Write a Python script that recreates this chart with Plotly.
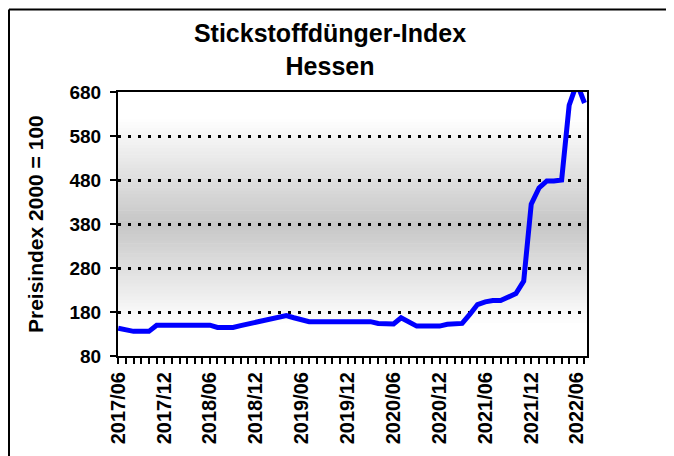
import pandas as pd
import plotly.graph_objects as go

# ---- data ----
months = pd.date_range("2017-06-01", periods=62, freq="MS")
index_values = [
    143, 139, 136, 136, 136, 150, 150, 150, 150, 150, 150, 150,
    150, 145, 145, 145, 149, 153, 157, 161, 165, 167, 172, 167,
    162, 158, 158, 158, 158, 158, 158, 158, 158, 158, 154, 153,
    153, 167, 157, 148, 148, 148, 148, 152, 154, 154, 175, 197,
    203, 206, 206, 215, 222, 250, 425, 462, 478, 478, 480, 650,
    700, 655,
]
y_ticks = [80, 180, 280, 380, 480, 580, 680]
title_lines = ["Stickstoffdünger-Index", "Hessen"]
y_title = "Preisindex 2000 = 100"

FONT = "Liberation Sans, Arial, sans-serif"

# page has an 8px body margin -> figure is 666x448 placed at (8,8)
W, H = 666, 448
ML, MR, MT, MB = 110, 87, 84, 98
PW, PH = W - ML - MR, H - MT - MB

fig = go.Figure()
fig.add_trace(go.Scatter(
    x=months, y=index_values, mode="lines",
    line=dict(color="#0000ff", width=5),
    hoverinfo="x+y", showlegend=False,
))

# background gradient (white -> grey -> white) as thin bands
shapes = []
N = 80
for i in range(N):
    f0, f1 = i / N, (i + 1) / N
    f = (f0 + f1) / 2
    if f < 0.12 or f > 0.9:
        g = 255
    elif f <= 0.5:
        g = 255 - 57 * (f - 0.12) / 0.38
    else:
        g = 198 + 57 * (f - 0.5) / 0.4
    g = int(round(g))
    shapes.append(dict(type="rect", xref="x domain", yref="y domain",
                       x0=0, x1=1, y0=f0, y1=f1 + 0.002,
                       fillcolor=f"rgb({g},{g},{g})", line=dict(width=0),
                       layer="below"))

# outer frame (left and top edges)
fx = (1 - ML) / PW
fy = (H - MB - 1) / PH
shapes.append(dict(type="line", xref="paper", yref="paper",
                   x0=fx, x1=fx, y0=-0.5, y1=fy,
                   line=dict(color="black", width=2)))
shapes.append(dict(type="line", xref="paper", yref="paper",
                   x0=fx, x1=1.3, y0=fy, y1=fy,
                   line=dict(color="black", width=2)))

fig.update_layout(
    width=W, height=H,
    margin=dict(l=ML, r=MR, t=MT, b=MB),
    paper_bgcolor="white", plot_bgcolor="white",
    font=dict(family=FONT, color="black"),
    title=dict(text="<br>".join(title_lines), x=322 / W, xanchor="center",
               xref="container", yref="container", y=1 - 34 / H, yanchor="top",
               font=dict(size=25, family=FONT, weight="bold", color="black")),
    shapes=shapes,
    annotations=[dict(text=y_title, textangle=-90, xref="paper", yref="paper",
                      x=(27 - ML) / PW, y=0.5, xanchor="center", yanchor="middle",
                      showarrow=False,
                      font=dict(size=21, family=FONT, weight="bold", color="black"))],
)

fig.update_xaxes(
    type="date", range=["2017-05-31", "2022-07-11"],
    tick0="2017-06-01", dtick="M6", tickformat="%Y/%m", tickangle=-90,
    ticks="outside", ticklen=6, tickwidth=2, tickcolor="black",
    minor=dict(dtick="M1", ticks="outside", ticklen=6, tickwidth=2, tickcolor="black"),
    showgrid=False, showline=True, linecolor="black", linewidth=2, mirror=True,
    tickfont=dict(size=20, family=FONT, weight="bold", color="black"),
)
fig.update_yaxes(
    range=[80, 680], tickvals=y_ticks,
    ticks="outside", ticklen=6, tickwidth=2, tickcolor="black",
    ticklabelstandoff=5,
    showgrid=True, gridcolor="black", gridwidth=3, griddash="3px,7px",
    showline=True, linecolor="black", linewidth=2, mirror=True,
    zeroline=False,
    tickfont=dict(size=19, family=FONT, weight="bold", color="black"),
)

fig.write_html("out.html")
